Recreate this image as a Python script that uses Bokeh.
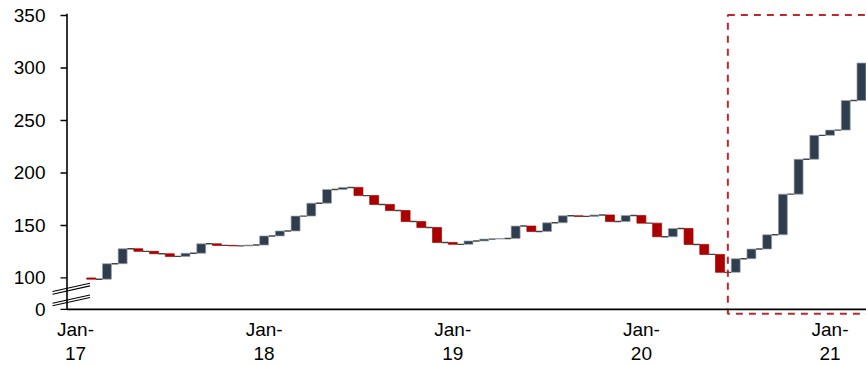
from bokeh.plotting import figure
from bokeh.models import ColumnDataSource, FixedTicker, Range1d
from bokeh.embed import file_html
from bokeh.resources import INLINE

# ---------------- data ----------------
# monthly index values, Jan-17 (index 0) .. Mar-21 (index 50)
values = [100.0, 98.8, 113.5, 127.8, 125.3, 123.0, 120.5, 123.5, 132.5, 131.0, 130.5, 131.3,
          140.0, 144.7, 158.9, 171.2, 184.2, 186.2, 178.4, 170.0, 164.2, 153.7, 148.0, 133.8,
          132.0, 135.2, 137.0, 137.6, 149.4, 144.2, 152.5, 159.2, 158.6, 160.0, 153.7, 159.4,
          152.2, 139.2, 147.1, 131.9, 122.4, 105.3, 118.3, 127.5, 141.1, 179.8, 213.0, 235.8,
          240.8, 269.0, 304.7]
x_tick_positions = [0, 12, 24, 36, 48]
x_tick_labels = ["Jan-\n17", "Jan-\n18", "Jan-\n19", "Jan-\n20", "Jan-\n21"]
y_tick_values = [100, 150, 200, 250, 300, 350]
y_tick_labels = ["100", "150", "200", "250", "300", "350"]
y_zero_pos = 70           # where the "0" label sits below the axis break
highlight_start = 41.5    # dashed box starts between Jun-20 and Jul-20
highlight_top = 350.5

UP = "#2F3D4E"
DOWN = "#AA0000"
BOX = "#C0272D"
FONT = "Liberation Sans"

# ---------------- geometry ----------------
W, H = 866, 366
B_LEFT, B_RIGHT, B_TOP, B_BOTTOM = 50, 0, 13, 50
x_start, x_end = -1.59, 50.32
y_start, y_end = 64.2, 351.9
fw = W - B_LEFT - B_RIGHT
fh = H - B_TOP - B_BOTTOM
ppx = fw / (x_end - x_start)
ppy = fh / (y_end - y_start)


def xd(px):
    return x_start + (px - B_LEFT) / ppx


def yd(py):
    return y_end - (py - B_TOP) / ppy


# ---------------- waterfall pieces ----------------
idx = list(range(1, len(values)))
tops = [max(values[i - 1], values[i]) for i in idx]
bots = [min(values[i - 1], values[i]) for i in idx]
cols = [UP if values[i] >= values[i - 1] else DOWN for i in idx]
lcols = ["#9AA3AD" if c == UP else DOWN for c in cols]
bars = ColumnDataSource(dict(x=idx, top=tops, bottom=bots, color=cols, lcolor=lcols))

bw = 0.57
cx0 = [i + bw / 2 for i in range(1, len(values) - 1)]
cx1 = [i + 1 - bw / 2 for i in range(1, len(values) - 1)]
cy = [values[i] for i in range(1, len(values) - 1)]
conn = ColumnDataSource(dict(x0=cx0, x1=cx1, y=cy))

p = figure(width=W, height=H, output_backend="svg", toolbar_location=None,
           x_range=Range1d(x_start, x_end), y_range=Range1d(y_start, y_end),
           min_border_left=B_LEFT, min_border_right=B_RIGHT,
           min_border_top=B_TOP, min_border_bottom=B_BOTTOM)
p.outline_line_color = None
p.xgrid.visible = False
p.ygrid.visible = False
p.background_fill_color = "white"
p.border_fill_color = "white"

p.segment(x0="x0", y0="y", x1="x1", y1="y", source=conn, line_color="#444444", line_width=1.4)
p.vbar(x="x", width=bw, top="top", bottom="bottom", source=bars,
       fill_color="color", line_color="lcolor", line_width=1, line_alpha=0.7)

# dashed highlight box (right side runs off the chart)
p.quad(left=[highlight_start], right=[x_end + 2], bottom=[yd(314.3)], top=[highlight_top],
       fill_color=None, line_color=BOX, line_width=2, line_dash="7 6")

# axis lines, ticks and break marks
ax_x = xd(66.5)
p.segment(x0=[ax_x], y0=[y_zero_pos], x1=[x_end], y1=[y_zero_pos], line_color="black", line_width=1.6)
p.segment(x0=[ax_x], y0=[y_zero_pos], x1=[ax_x], y1=[y_end], line_color="black", line_width=1.6)
tick_vals = [y_zero_pos] + y_tick_values
p.segment(x0=[xd(60)] * len(tick_vals), y0=tick_vals, x1=[ax_x] * len(tick_vals), y1=tick_vals,
          line_color="black", line_width=1.4)
for (lx, ly, rx, ry) in [(52, 293.3, 89.5, 285.0), (52, 305.0, 89.5, 296.7)]:
    for off in (-1.3, 1.3):
        p.line([xd(lx), xd(rx)], [yd(ly + off), yd(ry + off)], line_color="black", line_width=1.1)

# axes: labels only
p.xaxis.ticker = FixedTicker(ticks=x_tick_positions)
p.xaxis.major_label_overrides = dict(zip(x_tick_positions, x_tick_labels))
p.yaxis.ticker = FixedTicker(ticks=[y_zero_pos] + y_tick_values)
p.yaxis.major_label_overrides = dict(zip([y_zero_pos] + y_tick_values, ["0"] + y_tick_labels))
for ax in (p.xaxis, p.yaxis):
    ax.axis_line_color = None
    ax.major_tick_line_color = None
    ax.minor_tick_line_color = None
    ax.major_tick_out = 0
    ax.major_tick_in = 0
    ax.major_label_text_font = FONT
    ax.major_label_text_font_size = "19px"
    ax.major_label_text_color = "black"
p.yaxis.major_label_standoff = 5
p.xaxis.major_label_standoff = 3
p.xaxis.major_label_text_line_height = 1.16

open("out.html", "w").write(file_html(p, INLINE))
